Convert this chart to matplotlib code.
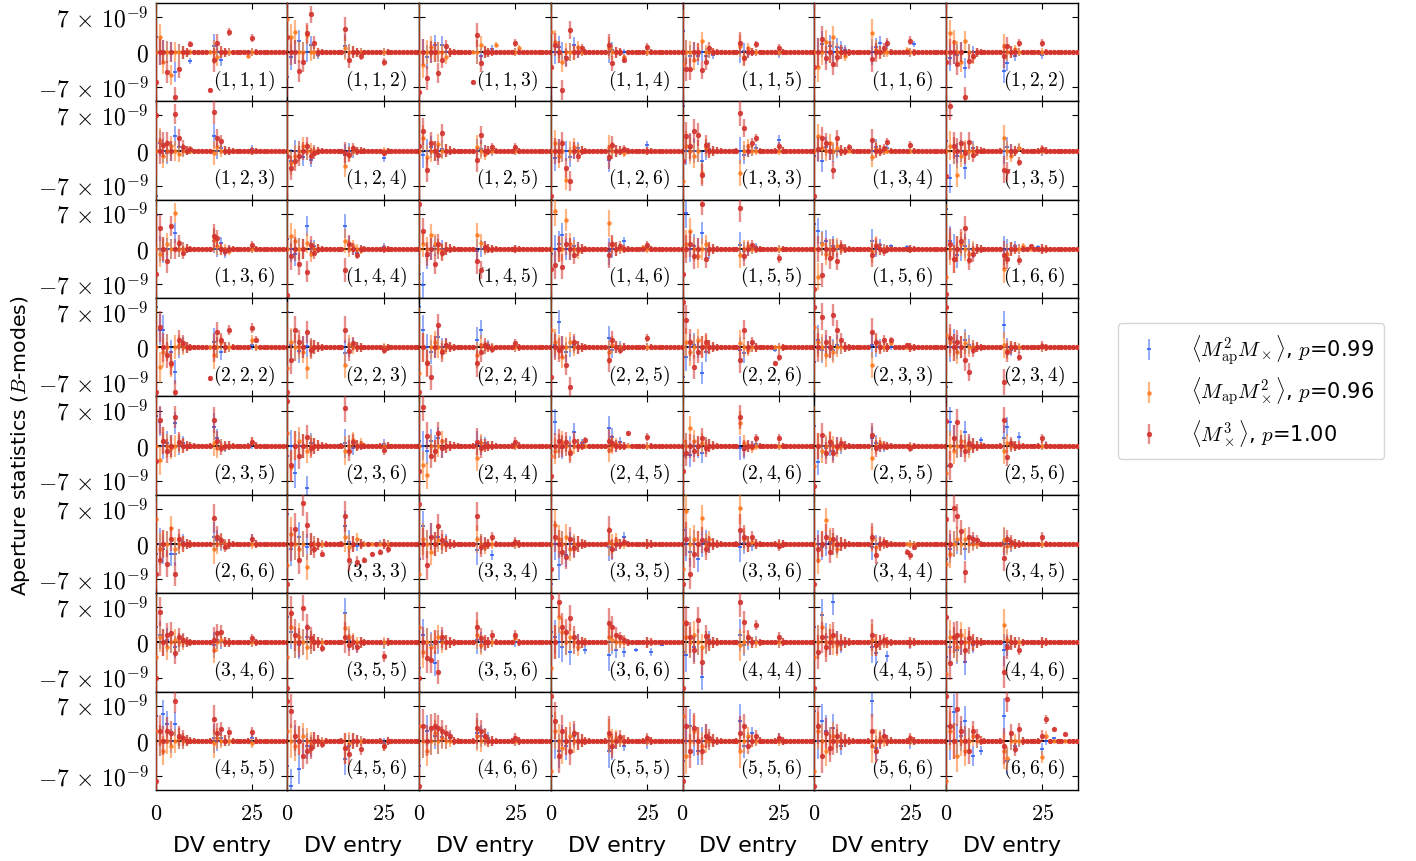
import matplotlib
matplotlib.use("Agg")
import matplotlib.pyplot as plt
from matplotlib.colors import to_rgba
import numpy as np

plt.rcParams["mathtext.fontset"] = "cm"
plt.rcParams["font.family"] = ["DejaVu Sans"]

# ---------------- data (values in units of 1e-9) ----------------
UNIT = 1e-9
N_ENTRIES = 35
X_TICKS = [0, 25]
Y_TICKS = [-7, 0, 7]
Y_TICK_LABELS = [r"$-7\,\times\,10^{-9}$", r"$0$", r"$7\,\times\,10^{-9}$"]

PANEL_LABELS = [
    "1,1,1", "1,1,2", "1,1,3", "1,1,4", "1,1,5", "1,1,6", "1,2,2",
    "1,2,3", "1,2,4", "1,2,5", "1,2,6", "1,3,3", "1,3,4", "1,3,5",
    "1,3,6", "1,4,4", "1,4,5", "1,4,6", "1,5,5", "1,5,6", "1,6,6",
    "2,2,2", "2,2,3", "2,2,4", "2,2,5", "2,2,6", "2,3,3", "2,3,4",
    "2,3,5", "2,3,6", "2,4,4", "2,4,5", "2,4,6", "2,5,5", "2,5,6",
    "2,6,6", "3,3,3", "3,3,4", "3,3,5", "3,3,6", "3,4,4", "3,4,5",
    "3,4,6", "3,5,5", "3,5,6", "3,6,6", "4,4,4", "4,4,5", "4,4,6",
    "4,5,5", "4,5,6", "4,6,6", "5,5,5", "5,5,6", "5,6,6", "6,6,6",
]

SERIES_NAMES = [r"$\langle M_{\mathrm{ap}}^2M_\times\rangle$",
                r"$\langle M_{\mathrm{ap}}M_\times^2\rangle$",
                r"$\langle M_\times^3\rangle$"]
P_VALUES = ["0.99", "0.96", "1.00"]

# typical error bar (1 sigma) per DV entry
ERR_PROFILE = [12.0, 2.6, 2.4, 2.2, 2.0, 2.0, 1.7, 1.3, 0.9, 0.6, 0.4, 0.3,
               0.25, 0.25, 0.4, 2.4, 1.7, 1.2, 0.9, 0.8, 0.5, 0.3, 0.25, 0.25,
               0.4, 0.8, 0.6, 0.3, 0.2, 0.2, 0.2, 0.2, 0.2, 0.2, 0.2]

PANEL_ERR_SCALE = [
    1.0, 1.0, 1.0, 0.9, 0.9, 1.1, 1.0,
    1.0, 0.9, 1.0, 1.0, 1.1, 0.9, 1.1,
    1.0, 1.0, 1.0, 1.1, 1.1, 1.0, 1.2,
    1.2, 1.1, 1.1, 1.0, 1.1, 1.1, 1.1,
    1.1, 1.2, 1.1, 1.0, 1.0, 1.0, 1.1,
    1.2, 1.3, 1.2, 1.2, 1.3, 1.1, 1.1,
    1.1, 1.3, 1.2, 1.3, 1.3, 1.3, 1.3,
    1.2, 1.3, 1.3, 1.4, 1.4, 1.4, 1.5,
]

# notable (entry, value) points; other entries sit at zero
BLUE = [
    [(0, 3), (5, -4), (9, -1.7), (17, -1.5), (15, 1.2)],
    [(0, -5), (1, -1), (3, 2.3), (6, 1.5), (15, 1.2), (8, -0.5)],
    [(4, 1.5), (6, 1.5), (2, -1), (16, -0.8), (19, 0.6)],
    [(2, 1), (6, 1.4), (4, -1), (16, 0.5)],
    [(0, 4.3), (2, -0.7), (4, -0.7), (6, -0.7), (8, -0.5), (16, 0.3), (25, -0.4)],
    [(0, -5), (2, 1.6), (4, 1.2), (6, 1.0), (7, 0.9), (8, 0.5), (17, 1.9), (19, 1.5), (26, 1.6), (16, 1)],
    [(1, -1.1), (3, -0.5), (5, -3.1), (15, -3.7), (16, -2.1), (18, -0.8), (25, -0.6)],
    [(0, -9), (1, 1.5), (5, 2.9), (6, 0.8), (15, 2.9), (17, 0.5), (25, 0.4), (3, -0.5)],
    [(1, -2), (4, -1.2), (6, -1.8), (15, -0.9), (25, -1.5), (17, -0.5)],
    [(1, -0.9), (3, 0.8), (6, 0.3), (16, 0.4), (19, -0.3)],
    [(1, -1.5), (5, -1.2), (7, 0.5), (15, -1.9), (25, 1.1)],
    [(0, 8.9), (2, 0.6), (5, -2.1), (16, -0.8), (19, 0.5), (25, 2.2), (7, 0.3)],
    [(0, -1), (2, -2.1), (3, 0.8), (5, -0.5), (16, 0.8), (19, 0.5)],
    [(0, 2), (1, -5.5), (3, -1), (5, -3.5), (7, 0.5), (16, 0.8), (19, 0.5), (25, -0.3)],
    [(0, 6.8), (2, -0.5), (5, 3.1), (15, 1.5), (17, 1.1), (18, -0.9)],
    [(0, 2), (2, -1), (5, 4.5), (7, 0.5), (15, 4.5), (16, 0.8), (18, -0.9), (25, 0.3)],
    [(0, -5), (1, -7.2), (2, -1.5), (4, 0.5), (15, -0.5), (17, 0.3)],
    [(0, -1), (2, 1), (3, 2.8), (6, 0.5), (15, -0.5), (19, 1.5), (25, 0.3)],
    [(1, 7.1), (3, 0.5), (5, 3.1), (7, -0.5), (15, 0.8), (16, -0.5), (19, 0.3)],
    [(0, 5), (1, 3.5), (2, 1.1), (3, 1.5), (5, 0.5), (15, 1.5), (17, 0.8), (20, 0.5), (24, 0.3)],
    [(0, 8), (1, 1.5), (3, -1.2), (5, 0.5), (7, -0.3), (15, -0.3), (18, 0.5), (24, 0.3)],
    [(0, 8), (1, 3.5), (2, 3.5), (4, -1), (5, -5), (7, 0.5), (15, 1), (17, -1), (25, 0.5)],
    [(0, 7), (1, 0.5), (3, -0.8), (5, 0.3), (15, -1.2), (17, 0.5), (25, -0.3)],
    [(0, 8), (1, 3.5), (3, -1), (5, 2.1), (7, 0.5), (15, 1.5), (16, 3.5), (18, 0.5)],
    [(1, 0.5), (2, 5.1), (4, -1), (6, 0.5), (15, 1.8), (16, -0.5), (18, 0.3)],
    [(0, -6), (1, -1.9), (3, 0.5), (5, -5.2), (6, -1), (15, -0.5), (16, -1.2), (24, -0.5)],
    [(0, -3), (1, 1.5), (2, -0.5), (5, -0.5), (6, 0.5), (15, 0.5), (17, 0.3)],
    [(0, -8), (2, 1), (5, 1.5), (6, 0.5), (15, 4.5), (17, -0.5), (19, -0.3)],
    [(0, 6), (1, 4.8), (3, 0.5), (5, 4.5), (7, 0.5), (15, 3.8), (16, 1.5), (18, -0.3), (25, 0.3)],
    [(0, -2), (2, -5.5), (5, -8.5), (6, 0.5), (15, 0.5), (17, -0.5), (25, 0.3)],
    [(0, 1), (2, -1), (3, 1), (5, 1.5), (6, -0.5), (15, 0.3), (17, 0.5)],
    [(0, 7), (1, 4.8), (3, -0.5), (6, 2.8), (8, 0.5), (15, 3.5), (16, 1.8), (18, 0.8)],
    [(0, -2), (2, -1.9), (4, -0.5), (5, -1.5), (15, -0.5), (16, -0.9), (19, 0.3)],
    [(0, 4), (1, -3.2), (3, -0.5), (5, -1), (7, -0.3), (15, 1.5), (16, 0.5), (18, -0.3)],
    [(0, -4), (1, 4.8), (2, 1.5), (5, 2.8), (9, 1.1), (15, 1.5), (16, 3.8), (19, 1.8), (26, 0.2)],
    [(0, -2), (2, -1), (4, -1.9), (5, -2), (7, 0.5), (15, 1.5), (16, 0.8), (25, 1)],
    [(0, 6), (1, -1), (3, 1.5), (5, -0.5), (15, 3.5), (16, 0.5), (18, -0.3), (24, 0.3)],
    [(0, -3), (1, 3.5), (3, 1.5), (5, 1.5), (7, 0.5), (15, -1.2), (19, -2.2)],
    [(0, -8), (2, -4.2), (4, -2.2), (6, -0.5), (15, -0.5), (16, -1.2), (19, 1.5)],
    [(0, 2.8), (2, -1.5), (4, -3), (6, 0.5), (15, -0.5), (16, 0.3), (18, -0.3)],
    [(0, 1), (2, -0.5), (4, 0.5), (6, -0.3), (15, -0.5), (17, 0.3)],
    [(0, -3), (1, -0.9), (3, 0.5), (5, -1), (7, 0.3), (15, 0.5), (17, -0.3)],
    [(0, 3), (1, 1.5), (3, 0.5), (5, -1), (7, 0.3), (15, -0.5), (16, 0.5)],
    [(0, 5), (1, 2), (3, -0.5), (5, 1), (15, 5.8), (16, 0.5), (18, -0.8), (25, -0.3)],
    [(0, -5), (1, 1.5), (3, -0.5), (4, -4.2), (6, 0.5), (15, 0.5), (17, -0.3)],
    [(0, 2), (1, 1), (3, -1), (5, -1.9), (9, -1.5), (15, -2.5), (17, -1.5), (19, -1.9), (22, -1.5), (26, -1.9), (29, -0.5)],
    [(0, -2), (1, -2.5), (3, -1), (5, -6.9), (7, 0.5), (15, 1.5), (16, -0.5), (19, 0.3)],
    [(0, 3), (2, 5.5), (3, 1), (5, 8), (7, -0.5), (15, -1), (16, -2.2), (19, -2.8), (25, -0.3)],
    [(0, -3), (1, -1), (3, -1.5), (5, -3.9), (7, -0.5), (15, -1.5), (16, -0.5)],
    [(0, 5), (2, 5.3), (3, 3.3), (5, 3.3), (6, 0.5), (15, 0.5), (17, 0.5), (25, 0.5)],
    [(0, -5), (1, -9), (3, -5.7), (5, -1), (6, -1), (15, -3.7), (16, -1), (25, -0.5)],
    [(0, -5), (2, 2), (4, 1), (6, 0.8), (8, 0.5), (15, 1.5), (16, 1), (17, 0.8), (18, 0.5)],
    [(0, 5), (2, -2), (4, -1), (6, 1), (15, -2), (16, -1.5), (19, -1), (25, -0.5)],
    [(0, -4), (2, 3), (4, -2), (6, 1), (15, 4), (16, -1), (18, 1.5), (25, 0.5)],
    [(0, 6), (2, 4), (3, 2), (5, 2.5), (7, -1), (15, 8), (16, -1.5), (18, 1), (25, -0.5)],
    [(0, 3), (2, 5.7), (4, 1), (5, 4), (7, -3), (9, -2), (15, 5), (16, -4), (18, -1), (25, -1.7), (28, 0.5)],
]

ORANGE = [
    [(1, 3), (4, -4.5), (16, -1), (24, -0.8), (2, -2)],
    [(0, 6.6), (1, 3), (5, 3.5), (2, 4), (15, 0.8)],
    [(1, -2.5), (3, 1), (7, -1), (16, 1.5), (20, 1.5), (26, 0.8)],
    [(0, 4), (1, 2), (3, -2), (7, 1), (15, 0.8), (19, -1)],
    [(0, -2.4), (5, 2.3), (3, -1.5), (15, 1.2), (17, 0.8), (16, -1)],
    [(1, -3), (3, 2), (5, 3), (8, -0.8), (15, 3.9), (16, 0.5), (24, 0.5)],
    [(1, 3.9), (2, 2), (5, 2.2), (7, -1), (15, 1.3), (18, 0.6), (4, -2)],
    [(1, 1.9), (2, -1), (4, 1), (6, -0.6), (16, 0.8), (15, -0.5)],
    [(2, -1.1), (1, -2.5), (4, 1), (15, -3.1), (16, -0.6)],
    [(1, 2.5), (2, -1.2), (5, 1.3), (15, 0.8), (17, -0.6)],
    [(1, 1.5), (4, -5.9), (2, -1), (6, 0.8), (15, 0.8), (19, -0.5)],
    [(0, -6), (1, 1), (3, -1), (5, -4.5), (15, -4.5), (17, 1), (6, 0.5)],
    [(1, 2.9), (2, 0.5), (4, 1.5), (6, 0.5), (15, -1.2), (16, 0.3)],
    [(1, 1), (3, -4.8), (4, -1), (15, 2.5), (17, -1), (19, 0.6)],
    [(1, -1), (5, 7.1), (3, 1), (15, 1.8), (16, 0.5), (19, -0.5)],
    [(1, 2.5), (2, 1.5), (5, 1.1), (6, -1), (15, 1.5), (17, 0.5), (19, -0.3)],
    [(1, 1), (3, 2.8), (4, 1), (6, -0.5), (15, 2.8), (16, 1.2)],
    [(1, 7.5), (4, 5.8), (5, 1), (7, -0.5), (15, 5.1), (16, 0.8), (24, 0.4)],
    [(1, 1), (2, 3.5), (4, -1.5), (6, 1), (15, -1.2), (17, 0.5)],
    [(1, -5.5), (2, 1), (3, -1), (6, 0.5), (15, -0.5), (16, 0.8)],
    [(0, -5.5), (2, -2), (4, 1), (6, -1), (15, -3.9), (16, -1), (20, 0.5)],
    [(1, -4), (2, -1), (4, -3.5), (6, 0.5), (15, -1.5), (17, 1), (25, 1.5)],
    [(0, -4.2), (1, 1), (4, -1), (5, -4.2), (15, -3.5), (16, 0.5)],
    [(0, -5.2), (2, -3), (4, 1), (6, -0.5), (15, -1.5), (16, 0.5)],
    [(0, 3.5), (1, 1), (3, -2), (5, 1), (15, -1), (16, 0.5)],
    [(1, 1), (2, -1), (4, 1.5), (6, 0.5), (15, 0.8), (17, -0.5)],
    [(0, 4), (1, 1), (3, -1.5), (5, -1), (15, -3.5), (16, 0.8), (20, 0.8)],
    [(0, 2.5), (1, 1), (3, -1), (5, 0.8), (15, 0.5), (16, -0.5)],
    [(1, -2.9), (2, 1), (4, -0.5), (6, 0.5), (15, 0.5), (16, -0.5), (25, 0.8)],
    [(0, 2.5), (1, -4.2), (3, 1), (5, -1), (15, -1), (17, 1.2), (19, 0.5)],
    [(1, -3.9), (2, -5.9), (4, -1), (6, 1), (15, -2.5), (16, 0.5)],
    [(0, -2), (1, -1), (3, 0.8), (5, -1), (15, -0.8), (17, 0.3)],
    [(0, 1), (2, 3.5), (3, 1), (5, 0.5), (15, 4.5), (16, 0.5), (18, -0.5)],
    [(0, -4), (2, -1), (4, 1), (6, -0.5), (15, -2.5), (17, 0.5)],
    [(0, -5.5), (2, -1), (4, 1), (6, -0.5), (15, -1), (16, 0.5)],
    [(0, 5), (1, -1), (4, 3.1), (5, -1), (15, -1), (17, 0.5)],
    [(0, -4.2), (1, 2), (3, -1), (5, -4.5), (15, 1.5), (16, -0.5), (18, 1)],
    [(0, -6), (1, 1), (3, -1.5), (5, 0.8), (15, 1), (17, -0.5)],
    [(1, 3.8), (2, 1), (4, 1.5), (5, -1), (15, 0.5), (17, 0.8)],
    [(0, -5), (1, 6.5), (3, 1), (5, 5.1), (7, 1), (15, 7.1), (16, 1), (18, 0.5)],
    [(1, -3.2), (3, 4.8), (4, 1), (6, -1), (15, 1), (16, -0.5)],
    [(0, -4), (1, -2), (3, 1), (5, 1), (15, 0.8), (16, -0.3)],
    [(0, -3), (1, 1), (3, -1), (5, 0.5), (15, -1.5), (17, 0.5)],
    [(0, -3), (1, 3), (3, 1), (5, -1), (15, 2.8), (16, 1), (17, 0.3)],
    [(0, 3), (1, -2), (3, -1), (5, 1), (15, 1.5), (16, -0.5), (25, 0.8)],
    [(0, -5), (2, 5), (3, 2), (5, 1), (7, -1), (15, 1), (16, 0.5)],
    [(0, 4), (1, 1), (3, 1.5), (5, -1), (15, -0.5), (17, 0.8)],
    [(0, -3), (2, 3), (4, 1), (6, -0.5), (15, 0.5), (16, -0.5)],
    [(0, -6.2), (1, 1), (3, -1), (4, 1.5), (15, 3.5), (16, 0.5)],
    [(0, 2), (2, -2), (4, -1), (6, 0.5), (15, -0.5), (16, 0.5), (25, -0.5)],
    [(0, 2), (2, -1), (4, 1), (6, -0.5), (15, -1.5), (16, -0.5), (25, -1)],
    [(0, 3), (2, -2), (4, 1.5), (6, 0.5), (15, 1), (17, 0.5)],
    [(0, -6), (1, 2), (3, -1.5), (5, 1), (15, 1), (17, 0.5)],
    [(0, 5), (1, -3), (3, 2), (5, -1), (15, -2), (17, 1)],
    [(0, -6), (1, 2), (3, -2), (5, 1), (15, -1), (17, 0.5)],
    [(0, -8), (1, 2), (3, -3), (5, -2), (7, 1), (15, -2), (16, -3.5), (25, -3.3), (26, 1)],
]

RED = [
    [(0, -6), (3, -4), (5, -9), (6, -3.4), (9, 1.7), (14, -7.5), (16, 1.9), (19, 4.1), (25, 2.9), (15, -1.5)],
    [(0, 3), (3, -3.7), (4, -2), (5, 3.9), (6, 7.6), (7, 1.9), (15, 4.6), (25, -1.9), (16, -1.5), (19, -0.8)],
    [(0, -8), (2, -5.2), (5, -4.2), (6, -1.5), (7, 1.2), (14, -5.9), (15, 3.5), (16, -2.2), (25, 1.8)],
    [(0, -3), (1, 1.5), (3, -7.5), (4, -1.2), (5, 4.5), (8, 0.8), (15, 1.5), (16, -2.2), (19, -1.5), (25, 1.1)],
    [(1, -3.4), (2, -3.4), (5, -3.5), (6, -2), (7, 0.8), (15, 1.9), (19, 1.6), (25, 0.9), (16, -1.2)],
    [(0, -3), (2, 2.6), (3, -1.2), (5, -2.4), (6, -1), (15, -1.4), (19, 1.9), (25, 2.3), (18, 0.8)],
    [(0, -2), (3, -2.4), (5, -9), (6, -1.7), (7, -0.8), (16, 1.3), (15, -0.8), (19, 1.9), (25, 1.9)],
    [(0, 7), (2, 1.2), (3, 1.5), (5, 7.2), (6, 2.5), (7, 0.8), (15, 7.7), (16, 2.5), (17, 1.9), (9, 0.3)],
    [(0, -1), (1, -3.5), (2, -2), (3, -1), (5, 1), (6, -1.1), (7, -0.5), (15, -0.4), (16, -0.8), (17, 0.5), (25, -0.4)],
    [(0, 1), (1, 3.8), (2, -3.9), (3, 1.5), (5, -0.8), (6, 3.5), (15, -1.9), (16, 3.1), (19, 0.8), (25, 0.8)],
    [(0, -9), (3, 1.5), (4, -3.5), (5, -6), (7, -1), (15, -1.2), (16, 1.2), (19, 0.3)],
    [(0, -2), (1, 2.9), (2, 0.9), (3, 3.9), (4, 3.2), (5, -4.8), (6, 1.2), (15, 7.5), (16, 4.5), (18, 1.5), (19, 2.5), (25, 0.9)],
    [(0, -9), (1, 0.3), (2, 2.5), (3, 1.5), (5, -3.8), (6, 2.5), (9, 0.8), (15, 2.2), (18, 0.5), (19, 1.8), (25, 1.2)],
    [(0, -5), (1, 8.9), (2, 1), (4, 1.5), (5, -0.5), (6, 1.8), (7, -0.8), (15, -3.8), (16, -4.1), (19, -2.2), (25, 0.3)],
    [(0, -5), (1, 4.1), (3, -2.5), (4, 4.5), (6, 1.1), (7, -0.8), (15, 2.5), (16, 2.1), (18, -0.5), (25, 0.8)],
    [(0, -9.2), (1, -1.5), (3, -3), (5, -4.5), (6, 0.8), (7, -0.8), (15, -4.2), (16, 1), (18, -1.2)],
    [(0, 9), (1, 3.5), (2, -1), (4, -3), (5, 1), (6, -0.8), (15, -2.5), (16, -4.2), (17, 0.3)],
    [(0, -4), (1, -3.2), (3, -3.5), (4, 1), (6, -1.2), (15, -1.2), (16, 1), (18, 0.5), (25, 0.8)],
    [(0, -5), (2, 1), (3, -1.5), (5, 9), (6, -2), (15, 8.1), (16, -1.5), (18, 0.8), (25, -1.9)],
    [(0, -8), (2, -5.2), (4, -1.9), (6, -2.5), (7, 0.5), (15, -1.2), (16, 0.5), (18, -0.5)],
    [(0, -9), (1, 1), (2, -2), (4, 1.5), (5, 4.1), (6, -2.2), (7, -1), (15, -1.2), (16, -2), (19, -2.2), (22, 0.5)],
    [(0, -9), (1, 4.1), (3, -1.5), (4, -3.2), (5, -9), (6, 1.5), (7, 0.8), (14, -6.2), (16, 3.1), (17, 1.5), (19, 3.5), (25, 3.8), (26, 1.5)],
    [(0, -9), (1, -2.5), (2, 3.5), (3, 1), (5, 3.1), (6, -0.5), (15, 3.5), (16, -0.8), (17, 0.8), (25, -0.5)],
    [(0, -9), (2, -3.2), (3, -6), (5, 4.5), (6, -1), (7, 0.5), (15, -3.2), (16, -1), (17, 0.5), (19, -0.3), (25, 0.8)],
    [(0, -6), (2, -0.5), (4, -3.5), (5, -7.9), (6, 1), (15, -2.5), (16, 1.5), (18, -0.5), (25, 1.8)],
    [(0, 9), (1, 5.5), (2, 1), (3, -3.9), (4, -1), (6, 1), (15, -2.5), (16, 3.5), (18, 1.1), (24, -3.2), (25, -1.9)],
    [(0, 8), (2, 6.1), (3, 1), (5, 6.5), (6, 3.5), (7, 1.5), (15, 3.1), (16, 1), (18, 1.5), (20, 1.5), (24, 0.5)],
    [(0, 8), (1, 1.8), (3, 1), (5, -2.5), (6, -4.9), (7, -0.5), (15, -6.9), (16, -1), (19, -1.9), (25, 0.3)],
    [(0, -3), (1, 5.1), (2, 1), (3, -1), (5, 5.8), (6, 0.8), (15, 5.1), (16, 1), (17, -0.5), (25, 0.8)],
    [(0, 9), (1, -3.9), (3, -2), (5, 1.8), (6, -0.5), (15, 7.6), (16, -1), (17, 0.8), (25, -0.9)],
    [(0, -5), (1, 7.8), (2, 2), (3, -2), (4, -1), (5, 2.5), (6, -0.5), (15, 0.8), (16, -0.5), (25, 0.8)],
    [(0, -6), (2, 1), (4, 0.8), (5, -1.5), (6, 1), (9, 1.1), (15, 1), (16, 0.5), (20, 2.5), (25, 1.8)],
    [(0, -5), (1, -1.5), (3, -1), (5, 1.5), (6, -0.5), (15, 5.8), (16, -0.5), (19, 1.5), (25, 1.5)],
    [(0, -8), (2, 2.1), (3, -1.5), (4, 0.8), (5, -1.5), (7, 0.5), (15, 2.1), (16, -0.5), (25, -0.5)],
    [(0, 5), (1, -3.9), (2, 1.5), (3, 4.8), (5, -1), (6, 0.5), (15, 5.1), (16, -2.2), (17, 0.5), (25, 1.5)],
    [(0, -6), (1, -3.2), (3, -3.9), (4, 1), (5, -6), (6, 1), (15, 5.1), (16, 1.5), (17, 0.8), (18, -0.5), (25, 1.1)],
    [(0, -8), (2, 3), (3, -3.2), (4, 8.1), (5, 3.8), (7, -1), (9, -1.9), (15, 5.5), (16, -3.2), (18, -3.5), (20, -3.2), (22, -2), (24, -1.5), (26, -1)],
    [(0, 8), (2, -4.2), (3, 1.5), (5, 3.5), (6, 0.8), (15, 5.5), (16, -0.5), (19, 1.5), (25, 0.5)],
    [(0, -5), (1, 1.5), (3, -1.5), (4, -2.5), (5, 1), (6, -0.8), (15, 2.8), (16, -1), (19, 0.5)],
    [(0, -8), (1, 1), (2, -5.9), (3, -2), (5, 0.8), (6, -1), (15, 2.8), (16, 1.5), (18, 1.5), (25, -0.3)],
    [(0, -8), (1, -1), (3, 1.5), (4, -1.5), (5, 1), (15, 1.5), (16, -2.2), (18, 0.5), (24, -1.5), (25, -2.2), (26, -0.5)],
    [(0, 5), (2, 7.1), (3, 5.5), (4, 2.5), (5, -5.5), (6, 1.5), (7, 1), (8, 0.8), (15, -2.8), (16, 1), (17, 0.5), (25, 1.5)],
    [(0, -7), (1, 6.1), (3, 1.5), (4, 1.8), (5, -2.2), (6, 1), (7, 0.5), (15, 0.5), (16, 1.8), (17, 2.1), (25, 0.8)],
    [(0, -9), (1, 5.8), (2, 1.5), (4, 6.8), (5, 3), (6, 0.8), (9, -1.2), (15, 1), (16, -0.5), (18, -1), (25, -2.8)],
    [(0, -7), (2, -3.2), (3, -3.5), (5, -5.9), (6, 1), (15, 3.1), (16, 0.8), (19, 1.5), (25, 1.5)],
    [(0, 9), (2, 8.1), (3, 3), (4, 2), (5, 4.8), (6, 1), (15, 3.8), (16, 3), (17, 1.5), (18, 1), (19, 0.5)],
    [(0, -9), (1, 3.8), (2, 1), (3, -1.5), (4, 4.5), (5, -3.9), (6, 1.2), (15, 8.1), (16, 4), (17, 1), (19, 3.5), (25, 1.1)],
    [(0, -9), (1, -2), (2, 1), (3, -1), (5, 1.5), (15, 1.5), (16, -0.5), (18, 0.5)],
    [(0, 5), (1, -4.2), (2, 1), (3, 1.5), (5, -1.5), (6, 0.8), (15, -5.9), (16, -1), (19, -1.5)],
    [(0, -8), (1, 2), (3, 2), (4, 1.5), (5, 8), (6, 1), (7, 0.5), (15, 4.3), (16, 1.5), (17, 2.3), (19, 1.7), (25, 1.7)],
    [(0, 8), (1, 6), (2, 1), (4, -3), (5, -2), (6, -1.5), (9, -0.7), (15, -1.5), (16, -2.7), (19, -1.7), (25, -1)],
    [(0, -9), (1, 3), (3, 2.5), (4, 3), (5, 2.5), (6, 2), (7, 1.5), (8, 1), (15, 2.5), (16, 2), (17, 1), (25, 0.5)],
    [(0, 9), (1, 4), (2, -3), (3, 2), (5, -2), (6, 1.5), (15, 1.5), (16, -1), (18, 0.8), (25, 0.5)],
    [(0, -8), (1, 3), (2, -2), (3, 2.5), (5, -2), (6, 1), (7, 0.5), (15, 1.5), (16, 3), (17, -1), (19, 1), (25, 0.5)],
    [(0, -9), (1, 3), (2, -3), (3, 1.5), (4, -1.5), (6, 1), (15, 2), (16, -2), (18, 1), (25, 0.5)],
    [(0, 9), (1, 3), (3, 6.3), (4, 2), (6, -2), (7, 2), (8, 1), (15, -1), (16, 8.3), (17, 1.5), (18, -1.7), (19, 2.3), (25, 1), (26, 4.3), (28, 2.3), (31, 1.3)],
]

# ---------------- styling ----------------
COLORS = ["#2e5cf0", "#ff7a1f", "#d2322d"]
MARKERS = ["_", "o", "o"]
MSIZES = [3.5, 2.6, 3.3]
ELW = [1.3, 1.6, 1.7]

fig, axs = plt.subplots(8, 7, figsize=(14.16, 8.61), dpi=100)
fig.subplots_adjust(left=0.110, right=0.761, bottom=0.0825, top=0.9965,
                    wspace=0, hspace=0)

x = np.arange(N_ENTRIES)
handles = []
for idx, label in enumerate(PANEL_LABELS):
    r, c = divmod(idx, 7)
    ax = axs[r, c]
    ax.axhline(0, color="k", lw=1.4, zorder=0.5)
    err = np.array(ERR_PROFILE) * PANEL_ERR_SCALE[idx]
    for s, series in enumerate([BLUE, ORANGE, RED]):
        y = np.zeros(N_ENTRIES)
        for e, v in series[idx]:
            y[e] = v
        cont = ax.errorbar(x, y * UNIT, yerr=err * UNIT, fmt=MARKERS[s],
                           ms=MSIZES[s], mew=1.3 if s == 0 else 0.5,
                           color=to_rgba(COLORS[s], 0.9),
                           mec=to_rgba(COLORS[s], 0.9),
                           ecolor=to_rgba(COLORS[s], 0.55),
                           elinewidth=ELW[s], capsize=0, zorder=2 + s,
                           label=SERIES_NAMES[s] + ", $p$=" + P_VALUES[s])
        if idx == 0:
            handles.append(cont)
    ax.set_xlim(0, 34.2)
    ax.set_ylim(-9.8e-9, 9.8e-9)
    ax.set_xticks(X_TICKS)
    ax.set_yticks([t * UNIT for t in Y_TICKS])
    ax.tick_params(direction="in", top=True, right=True, length=4, width=0.8,
                   labelleft=(c == 0), labelbottom=(r == 7))
    ax.tick_params(axis="y", labelsize=17, pad=5)
    ax.tick_params(axis="x", labelsize=16, pad=10)
    if c == 0:
        ax.set_yticklabels(Y_TICK_LABELS)
    if r == 7:
        ax.set_xticklabels([f"${t}$" for t in X_TICKS])
        ax.set_xlabel("DV entry", fontsize=16, labelpad=9)
    ax.text(0.905, 0.09, "$(" + label + ")$", transform=ax.transAxes,
            ha="right", va="bottom", fontsize=14, zorder=1)
    for sp in ax.spines.values():
        sp.set_linewidth(1.0)

axs[4, 0].set_ylabel(r"Aperture statistics ($B$-modes)", fontsize=14.7,
                     labelpad=4)

fig.legend(handles, [h.get_label() for h in handles], loc="center left",
           bbox_to_anchor=(0.782, 0.546), fontsize=15, frameon=True,
           borderpad=0.5, labelspacing=0.45, handletextpad=1.0)

fig.savefig("out.png", dpi=100)
